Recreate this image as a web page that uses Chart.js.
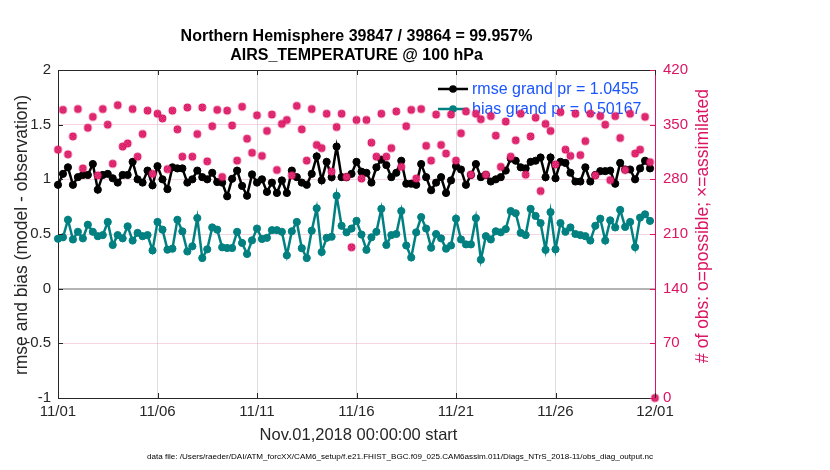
<!DOCTYPE html>
<html>
<head>
<meta charset="utf-8">
<script src="https://cdn.jsdelivr.net/npm/chart.js@4/dist/chart.umd.min.js"></script>
<style>
  html,body{margin:0;padding:0;background:#fff}
  #wrap{width:830px;height:470px}
</style>
</head>
<body>
<div id="wrap"><canvas id="c" width="830" height="470"></canvas></div>
<script>
/* ---------- data (6-hourly bins, 11/01 00Z .. 12/01 00Z) ---------- */
const tickLabels = ['11/01','11/06','11/11','11/16','11/21','11/26','12/01'];

const rmse = [
  0.95,1.05,1.11,0.95,1.02,1.04,1.04,1.14,0.905,1.04,
  1.05,1.01,0.97,1.04,1.04,1.16,1.00,0.97,1.08,0.945,
  1.12,1.00,0.91,1.11,1.10,1.10,0.97,1.00,1.08,1.02,
  1.00,1.06,0.975,0.97,0.845,1.005,1.08,0.94,0.85,1.045,
  0.97,1.00,0.885,0.97,0.875,0.99,0.875,1.08,1.02,0.97,
  0.95,1.05,1.21,0.99,1.16,1.02,1.30,1.02,1.02,1.05,
  1.16,1.07,1.06,0.97,1.11,1.18,1.13,1.02,1.06,1.17,
  0.96,0.96,0.95,1.14,1.02,0.90,0.97,1.02,0.875,0.99,
  1.12,1.09,0.95,1.04,1.14,1.02,1.04,0.98,1.00,1.02,
  1.08,1.19,1.17,1.11,1.10,1.16,1.17,1.20,1.02,1.20,
  1.01,1.16,1.15,1.06,0.98,0.98,1.11,0.98,1.04,1.075,
  1.075,1.08,0.96,1.15,1.09,1.09,1.00,1.10,1.17,1.10,
  null
];

const bias = [
  0.457,0.47,0.63,0.45,0.52,0.46,0.585,0.52,0.48,0.49,
  0.61,0.40,0.49,0.46,0.57,0.44,0.51,0.48,0.49,0.35,
  0.61,0.54,0.357,0.366,0.63,0.524,0.34,0.387,0.646,0.28,
  0.36,0.56,0.54,0.378,0.372,0.372,0.52,0.418,0.317,0.442,
  0.55,0.455,0.465,0.535,0.535,0.52,0.305,0.525,0.61,0.37,
  0.28,0.53,0.735,0.335,0.465,0.475,0.85,0.575,0.515,0.55,
  0.62,0.495,0.355,0.47,0.52,0.73,0.40,0.49,0.50,0.71,
  0.395,0.285,0.515,0.655,0.55,0.375,0.50,0.46,0.366,0.395,
  0.64,0.45,0.405,0.405,0.645,0.265,0.48,0.45,0.525,0.515,
  0.545,0.71,0.69,0.51,0.49,0.73,0.665,0.60,0.355,0.70,
  0.36,0.60,0.52,0.56,0.50,0.49,0.48,0.44,0.575,0.64,
  0.44,0.625,0.56,0.72,0.565,0.61,0.38,0.65,0.68,0.62,
  null
];

const nObs = [
  318,369,312,335,370,294,346,360,285,370,
  350,300,375,322,326,370,309,338,368,287,
  364,358,293,368,344,309,372,309,338,372,
  303,348,369,283,368,349,304,373,332,314,
  362,310,342,363,292,351,356,285,374,344,
  304,370,324,320,364,290,347,364,283,193,
  356,281,356,327,309,364,309,320,367,296,
  348,369,281,370,323,304,363,324,313,363,
  304,339,367,286,364,357,286,361,336,296,
  354,309,330,364,286,335,359,265,351,342,
  299,366,318,310,364,311,329,364,285,361,
  350,279,361,333,292,364,313,318,360,302,
  0
];

/* bin labels: 4 per day + closing 12/01 00Z */
const bins = [];
for(let d=1; d<=30; d++) for(const h of ['00','06','12','18']) bins.push(`11/${String(d).padStart(2,'0')} ${h}Z`);
bins.push('12/01 00Z');

/* ---------- styles ---------- */
const FONT   = '"Liberation Sans", Arial, Helvetica, sans-serif';
const INK    = '#262626';
const RED    = '#dc1463';
const TEAL   = '#008080';
const PINK   = 'rgba(236,160,190,0.45)';

/* marker: o + * in crimson (solid disc, faint spokes) */
const obsMark = (() => {
  const c = document.createElement('canvas'); c.width = c.height = 11;
  const g = c.getContext('2d'); g.translate(5.5,5.5);
  g.fillStyle = RED; g.beginPath(); g.arc(0,0,3.9,0,Math.PI*2); g.fill();
  g.strokeStyle = 'rgba(255,255,255,0.45)'; g.lineWidth = 0.5;
  for(let k=0;k<8;k++){
    const a = k*Math.PI/4;
    g.beginPath(); g.moveTo(1.2*Math.cos(a),1.2*Math.sin(a)); g.lineTo(3.1*Math.cos(a),3.1*Math.sin(a)); g.stroke();
  }
  return c;
})();

/* ---------- decorations: title, axis titles, inward ticks, legend ---------- */
const decor = {
  id:'decor',
  beforeDatasetsDraw(chart){
    const {ctx} = chart;
    ctx.save();
    ctx.font = `16px ${FONT}`; ctx.textBaseline = 'middle';
    const rows = [['rmse grand pr = 1.0455','#000'],['bias grand pr = 0.50167',TEAL]];
    rows.forEach(([txt,col],k)=>{
      const y = 89 + k*20;
      ctx.strokeStyle = col; ctx.lineWidth = 2.5;
      ctx.beginPath(); ctx.moveTo(438,y); ctx.lineTo(468,y); ctx.stroke();
      ctx.fillStyle = col; ctx.beginPath(); ctx.arc(453,y,3.8,0,Math.PI*2); ctx.fill();
      ctx.fillStyle = '#1a55ff'; ctx.fillText(txt,472,y+1);
    });
    ctx.restore();
  },
  afterDraw(chart){
    const {ctx, chartArea:a, scales} = chart;
    ctx.save();
    // top border
    ctx.strokeStyle = INK; ctx.lineWidth = 1;
    ctx.beginPath(); ctx.moveTo(a.left,a.top+0.5); ctx.lineTo(a.right,a.top+0.5); ctx.stroke();
    // inward ticks
    scales.y.ticks.forEach(t=>{
      const y = Math.round(scales.y.getPixelForValue(t.value))+0.5;
      ctx.beginPath(); ctx.moveTo(a.left,y); ctx.lineTo(a.left+5,y); ctx.stroke();
    });
    tickLabels.forEach((_,k)=>{
      const x = Math.round(scales.x.getPixelForValue(k*20))+0.5;
      ctx.beginPath(); ctx.moveTo(x,a.bottom); ctx.lineTo(x,a.bottom-5);
      ctx.moveTo(x,a.top); ctx.lineTo(x,a.top+5); ctx.stroke();
    });
    ctx.strokeStyle = RED;
    scales.y2.ticks.forEach(t=>{
      const y = Math.round(scales.y2.getPixelForValue(t.value))+0.5;
      ctx.beginPath(); ctx.moveTo(a.right-5,y); ctx.lineTo(a.right,y); ctx.stroke();
    });
    // title
    const cx = (a.left+a.right)/2;
    ctx.fillStyle = '#000'; ctx.textAlign = 'center'; ctx.textBaseline = 'middle';
    ctx.font = `bold 16px ${FONT}`;
    ctx.fillText('Northern Hemisphere 39847 / 39864 = 99.957%', cx, 37);
    ctx.fillText('AIRS_TEMPERATURE @ 100 hPa', cx, 56);
    // x title
    ctx.fillStyle = INK; ctx.font = `16.5px ${FONT}`;
    ctx.fillText('Nov.01,2018 00:00:00 start', cx+2, 435);
    // y titles
    ctx.font = `17.5px ${FONT}`;
    ctx.save(); ctx.translate(22,235); ctx.rotate(-Math.PI/2);
    ctx.fillText('rmse and bias (model - observation)',0,0); ctx.restore();
    ctx.save(); ctx.translate(703,226); ctx.rotate(-Math.PI/2);
    ctx.fillStyle = RED; ctx.fillText('# of obs: o=possible; \u00d7=assimilated',0,0); ctx.restore();
    // data file footnote
    const note = 'data file: /Users/raeder/DAI/ATM_forcXX/CAM6_setup/f.e21.FHIST_BGC.f09_025.CAM6assim.011/Diags_NTrS_2018-11/obs_diag_output.nc';
    ctx.font = `8px ${FONT}`; ctx.fillStyle = '#000';
    const w = ctx.measureText(note).width;
    ctx.save(); ctx.translate(400,457); ctx.scale(506/w,1); ctx.fillText(note,0,0); ctx.restore();
    ctx.restore();
  }
};

/* ---------- chart ---------- */
new Chart(document.getElementById('c'),{
  type:'line',
  data:{
    labels:bins,
    datasets:[
      {label:'# obs', data:nObs, yAxisID:'y2', showLine:false, order:0, clip:false,
       pointStyle:obsMark, pointRadius:4},
      {label:'rmse', data:rmse, yAxisID:'y', order:1, borderColor:'#000', borderWidth:2.5,
       pointBackgroundColor:'#000', pointBorderColor:'#000', pointRadius:3.6, pointBorderWidth:1, tension:0},
      {label:'bias', data:bias, yAxisID:'y', order:2, borderColor:TEAL, borderWidth:2.5,
       pointBackgroundColor:TEAL, pointBorderColor:TEAL, pointRadius:3.6, pointBorderWidth:1, tension:0}
    ]
  },
  options:{
    responsive:false, animation:false,
    layout:{padding:{top:70,left:0,right:0,bottom:0}},
    plugins:{legend:{display:false}, tooltip:{enabled:false}},
    scales:{
      x:{
        afterFit:s=>{s.height=72;},
        grid:{drawTicks:false, color:'#dedede', lineWidth:1},
        border:{color:INK, width:1},
        ticks:{autoSkip:false, maxRotation:0, padding:5, color:INK, font:{size:15, family:FONT},
               callback:(v,i)=> i%20===0 ? tickLabels[i/20] : null}
      },
      y:{
        position:'left', min:-1, max:2,
        afterFit:s=>{s.width=58;},
        ticks:{stepSize:0.5, padding:7, color:INK, font:{size:15, family:FONT},
               callback:v=> String(Math.round(v*100)/100)},
        grid:{drawTicks:false,
              color:c=> c.tick && c.tick.value===0 ? '#b4b4b4' : 'rgba(0,0,0,0)',
              lineWidth:c=> c.tick && c.tick.value===0 ? 2 : 0},
        border:{color:INK, width:1}
      },
      y2:{
        position:'right', min:0, max:420,
        afterFit:s=>{s.width=175;},
        ticks:{stepSize:70, padding:8, color:RED, font:{size:15, family:FONT}},
        grid:{drawTicks:false,
              color:c=> c.tick && [0,140,420].includes(c.tick.value) ? 'rgba(0,0,0,0)' : PINK},
        border:{color:RED, width:1}
      }
    }
  },
  plugins:[decor]
});
</script>
</body>
</html>
